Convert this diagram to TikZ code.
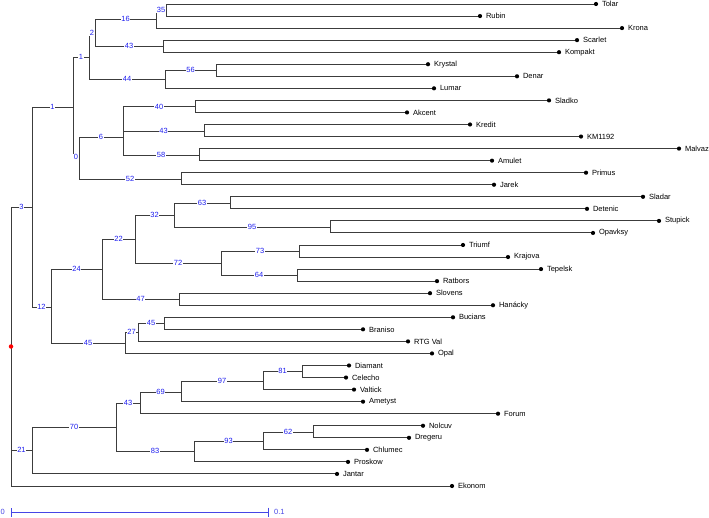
\documentclass[tikz,border=0pt]{standalone}
\usepackage{tikz}
\usepackage{fontspec}
\usepackage{xcolor}
\usetikzlibrary{arrows.meta}
\setmainfont{Liberation Sans}

\definecolor{branchgray}{RGB}{60,60,60}
\definecolor{bootblue}{RGB}{30,30,240}
\definecolor{barblue}{RGB}{70,70,230}

\tikzset{
  branch/.style={draw=branchgray, line width=0.95pt},
  boot/.style={pos=0.75, fill=white, inner sep=0.6pt, text=bootblue, font=\fontsize{7.5}{8}\selectfont},
  dot/.style={circle, fill=black, inner sep=0pt, minimum size=4.2pt},
  leaf/.style={anchor=west, xshift=3pt, inner sep=0.5pt, font=\fontsize{7.5}{9}\selectfont},
  rootdot/.style={circle, fill=red, inner sep=0pt, minimum size=4.5pt}
}

\begin{document}
\begin{tikzpicture}[x=1pt, y=-1pt]

    \useasboundingbox (0,0) rectangle (709,518);

    % Inner nodes of the tree
    \coordinate (n3) at (32,207);
    \coordinate (n1a) at (73,107);
    \coordinate (n1b) at (89,57);
    \coordinate (n2) at (95,33);
    \coordinate (n16) at (156,19);
    \coordinate (n35) at (166,10);
    \coordinate (n43a) at (163,46);
    \coordinate (n44) at (165,79);
    \coordinate (n56) at (216,70);
    \coordinate (n0) at (79,157);
    \coordinate (n6) at (123,137);
    \coordinate (n40) at (195,106.5);
    \coordinate (n43b) at (204,131);
    \coordinate (n58) at (199,155);
    \coordinate (n52) at (181,179);
    \coordinate (n12) at (51,307);
    \coordinate (n24) at (102,269);
    \coordinate (n22) at (135,239);
    \coordinate (n32) at (174,215);
    \coordinate (n63) at (230,203);
    \coordinate (n95) at (330,227);
    \coordinate (n72) at (221,263);
    \coordinate (n73) at (299,251);
    \coordinate (n64) at (297,275);
    \coordinate (n47) at (179,299);
    \coordinate (n45a) at (125,343);
    \coordinate (n27) at (138,332);
    \coordinate (n45b) at (164,323);
    \coordinate (n21) at (32,450);
    \coordinate (n70) at (116,427);
    \coordinate (n43c) at (140,403);
    \coordinate (n69) at (181,392);
    \coordinate (n97) at (263,381);
    \coordinate (n81) at (302,371);
    \coordinate (n83) at (194,451);
    \coordinate (n93) at (263,441);
    \coordinate (n62) at (313,432);

    % Leaves, 12.05 apart
    \foreach \n/\x/\t [count=\i] in {tolar/596/Tolar, rubin/480/Rubin, krona/622/Krona,
        scarlet/577/Scarlet, kompakt/559/Kompakt, krystal/428/Krystal, denar/517/Denar,
        lumar/434/Lumar, sladko/549/Sladko, akcent/407/Akcent, kredit/470/Kredit,
        km1192/581/KM1192, malvaz/679/Malvaz, amulet/492/Amulet, primus/586/Primus,
        jarek/494/Jarek, sladar/643/Sladar, detenic/587/Detenic, stupick/659/Stupick,
        opavksy/593/Opavksy, triumf/463/Triumf, krajova/508/Krajova, tepelsk/541/Tepelsk,
        ratbors/437/Ratbors, slovens/430/Slovens, hanacky/493/Hanácky, bucians/453/Bucians,
        braniso/363/Braniso, rtgval/408/RTG Val, opal/432/Opal, diamant/349/Diamant,
        celecho/346/Celecho, valtick/354/Valtick, ametyst/363/Ametyst, forum/498/Forum,
        nolcuv/423/Nolcuv, dregeru/409/Dregeru, chlumec/367/Chlumec, proskow/348/Proskow,
        jantar/337/Jantar, ekonom/452/Ekonom} {
        \pgfmathsetmacro{\y}{4+12.05*(\i-1)}
        \node[dot] (\n) at (\x,\y) {};
        \node[leaf] (\n-t) at (\n.east) {\t};
    }

    % Root
    \coordinate (root) at (11,346.5);

    % Branches with bootstrap values
    \foreach \p/\c in {root/n3, root/n21, n3/n1a, n3/n12, n1a/n1b, n1a/n0, n1b/n2, n1b/n44,
        n2/n16, n2/n43a, n16/n35, n44/n56, n0/n6, n0/n52, n6/n40, n6/n43b, n6/n58,
        n12/n24, n12/n45a, n24/n22, n24/n47, n22/n32, n22/n72, n32/n63, n32/n95,
        n72/n73, n72/n64, n45a/n27, n27/n45b, n21/n70, n70/n43c, n70/n83, n43c/n69,
        n69/n97, n97/n81, n83/n93, n93/n62}
        \draw[branch] (\p) |- (\c);

    % Branches to leaves
    \foreach \p/\c in {root/ekonom, n16/krona, n35/tolar, n35/rubin, n43a/scarlet,
        n43a/kompakt, n44/lumar, n56/krystal, n56/denar, n40/sladko, n40/akcent,
        n43b/kredit, n43b/km1192, n58/malvaz, n58/amulet, n52/primus, n52/jarek,
        n63/sladar, n63/detenic, n95/stupick, n95/opavksy, n73/triumf, n73/krajova,
        n64/tepelsk, n64/ratbors, n47/slovens, n47/hanacky, n45b/bucians, n45b/braniso,
        n27/rtgval, n45a/opal, n81/diamant, n81/celecho, n97/valtick, n69/ametyst,
        n43c/forum, n62/nolcuv, n62/dregeru, n93/chlumec, n83/proskow, n21/jantar}
        \draw[branch] (\p) |- (\c);

    % Bootstrap values on top
    \foreach \p/\c/\b in {root/n3/3, root/n21/21, n3/n1a/1, n3/n12/12, n1a/n1b/1, n1a/n0/0,
        n1b/n2/2, n1b/n44/44, n2/n16/16, n2/n43a/43, n16/n35/35, n44/n56/56, n0/n6/6,
        n0/n52/52, n6/n40/40, n6/n43b/43, n6/n58/58, n12/n24/24, n12/n45a/45, n24/n22/22,
        n24/n47/47, n22/n32/32, n22/n72/72, n32/n63/63, n32/n95/95, n72/n73/73, n72/n64/64,
        n45a/n27/27, n27/n45b/45, n21/n70/70, n70/n43c/43, n70/n83/83, n43c/n69/69,
        n69/n97/97, n97/n81/81, n83/n93/93, n93/n62/62}
        \path (\p) |- (\c) node[boot] {\b};

    \node[rootdot] (rootmark) at (root) {};

    % Scale bar
    \coordinate (sb0) at (11,512);
    \coordinate (sb1) at (269,512);
    \draw[barblue, line width=0.9pt, {Bar[width=9pt]}-{Bar[width=9pt]}] (sb0) -- (sb1);
    \node[anchor=east, xshift=-5pt, inner sep=1pt, text=barblue, font=\fontsize{7.5}{8}\selectfont] (sbl0) at (sb0) {0};
    \node[anchor=west, xshift=4pt, inner sep=1pt, text=barblue, font=\fontsize{7.5}{8}\selectfont] (sbl1) at (sb1) {0.1};

\end{tikzpicture}
\end{document}
